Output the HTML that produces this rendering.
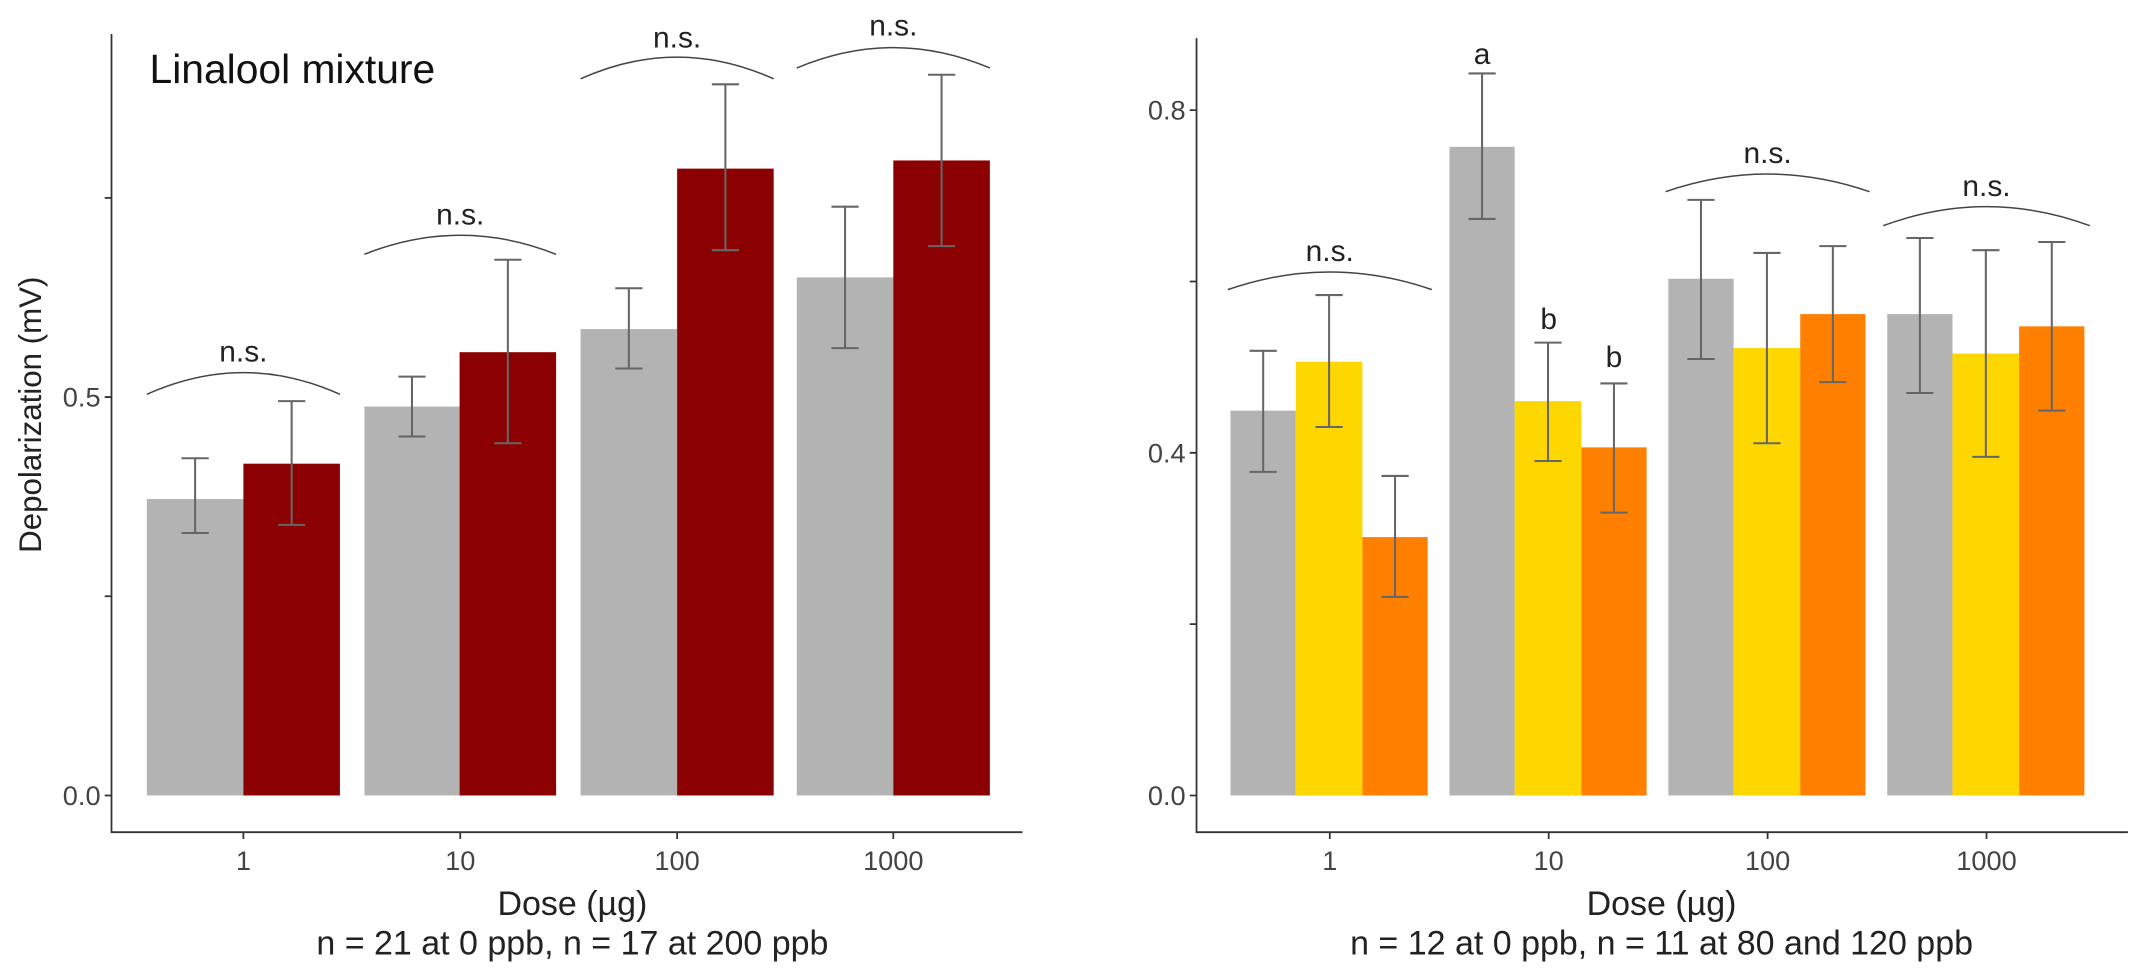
<!DOCTYPE html>
<html><head><meta charset="utf-8"><style>html,body{margin:0;padding:0;background:#fff}svg{display:block}</style></head>
<body>
<svg width="2132" height="977" viewBox="0 0 1568 718.5" preserveAspectRatio="none" xmlns="http://www.w3.org/2000/svg" font-family="Liberation Sans, sans-serif">
<rect width="1568" height="718.5" fill="#fff"/>
<!-- LEFT PANEL -->
<g>
<rect x="108" y="367" width="71" height="218" fill="#b3b3b3"/>
<rect x="179" y="341" width="71" height="244" fill="#8b0000"/>
<rect x="268" y="299" width="70" height="286" fill="#b3b3b3"/>
<rect x="338" y="259" width="71" height="326" fill="#8b0000"/>
<rect x="427" y="242" width="71" height="343" fill="#b3b3b3"/>
<rect x="498" y="124" width="71" height="461" fill="#8b0000"/>
<rect x="586" y="204" width="71" height="381" fill="#b3b3b3"/>
<rect x="657" y="118" width="71" height="467" fill="#8b0000"/>
<g stroke="#666" stroke-width="1.5" fill="none">
<path d="M143.5 337V392M133.5 337H153.5M133.5 392H153.5"/>
<path d="M214.5 295V386M204.5 295H224.5M204.5 386H224.5"/>
<path d="M303 277V321M293 277H313M293 321H313"/>
<path d="M373.5 191V326M363.5 191H383.5M363.5 326H383.5"/>
<path d="M462.5 212V271M452.5 212H472.5M452.5 271H472.5"/>
<path d="M533.5 62V184M523.5 62H543.5M523.5 184H543.5"/>
<path d="M621.5 152V256M611.5 152H631.5M611.5 256H631.5"/>
<path d="M692.5 55V181M682.5 55H702.5M682.5 181H702.5"/>
</g>
<g stroke="#444" stroke-width="1.1" fill="none">
<path d="M108 290Q179 258 250 290"/>
<path d="M268 187Q338.5 159 409 187"/>
<path d="M427 58Q498 26 569 58"/>
<path d="M586 50Q657 20 728 50"/>
</g>
<g font-size="22" fill="#222" text-anchor="middle">
<text x="179" y="266">n.s.</text>
<text x="338.5" y="165">n.s.</text>
<text x="498" y="35">n.s.</text>
<text x="657" y="26">n.s.</text>
</g>
<text x="110" y="61" font-size="30" fill="#111">Linalool mixture</text>
<g stroke="#333" stroke-width="1.3" fill="none">
<path d="M82 25V612H752"/>
<path d="M77 585H82M77 438.5H82M77 292H82M77 145.5H82"/>
<path d="M179 612V617M338.5 612V617M498 612V617M657 612V617"/>
</g>
<g font-size="20" fill="#444" text-anchor="end">
<text x="74" y="592">0.0</text>
<text x="74" y="299">0.5</text>
</g>
<g font-size="20" fill="#444" text-anchor="middle">
<text x="179" y="640">1</text><text x="338.5" y="640">10</text><text x="498" y="640">100</text><text x="657" y="640">1000</text>
</g>
<text x="421" y="673" font-size="25" fill="#222" text-anchor="middle">Dose (µg)</text>
<text x="421" y="702" font-size="25" fill="#222" text-anchor="middle">n = 21 at 0 ppb, n = 17 at 200 ppb</text>
<text transform="translate(30 305) rotate(-90)" font-size="23" fill="#222" text-anchor="middle">Depolarization (mV)</text>
</g>
<!-- RIGHT PANEL -->
<g>
<rect x="905" y="302" width="48" height="283" fill="#b3b3b3"/>
<rect x="953" y="266" width="49" height="319" fill="#ffd700"/>
<rect x="1002" y="395" width="48" height="190" fill="#ff7f00"/>
<rect x="1066" y="108" width="48" height="477" fill="#b3b3b3"/>
<rect x="1114" y="295" width="49" height="290" fill="#ffd700"/>
<rect x="1163" y="329" width="48" height="256" fill="#ff7f00"/>
<rect x="1227" y="205" width="48" height="380" fill="#b3b3b3"/>
<rect x="1275" y="256" width="49" height="329" fill="#ffd700"/>
<rect x="1324" y="231" width="48" height="354" fill="#ff7f00"/>
<rect x="1388" y="231" width="48" height="354" fill="#b3b3b3"/>
<rect x="1436" y="260" width="49" height="325" fill="#ffd700"/>
<rect x="1485" y="240" width="48" height="345" fill="#ff7f00"/>
<g stroke="#666" stroke-width="1.5" fill="none">
<path d="M929 258V347M919 258H939M919 347H939"/>
<path d="M977.5 217V314M967.5 217H987.5M967.5 314H987.5"/>
<path d="M1026 350V439M1016 350H1036M1016 439H1036"/>
<path d="M1090 54V161M1080 54H1100M1080 161H1100"/>
<path d="M1138.5 252V339M1128.5 252H1148.5M1128.5 339H1148.5"/>
<path d="M1187 282V377M1177 282H1197M1177 377H1197"/>
<path d="M1251 147V264M1241 147H1261M1241 264H1261"/>
<path d="M1299.5 186V326M1289.5 186H1309.5M1289.5 326H1309.5"/>
<path d="M1348 181V281M1338 181H1358M1338 281H1358"/>
<path d="M1412 175V289M1402 175H1422M1402 289H1422"/>
<path d="M1460.5 184V336M1450.5 184H1470.5M1450.5 336H1470.5"/>
<path d="M1509 178V302M1499 178H1519M1499 302H1519"/>
</g>
<g stroke="#444" stroke-width="1.1" fill="none">
<path d="M903 213Q978 187 1053 213"/>
<path d="M1225 141Q1300 115 1375 141"/>
<path d="M1385 166Q1461 138 1537 166"/>
</g>
<g font-size="22" fill="#222" text-anchor="middle">
<text x="978" y="192">n.s.</text>
<text x="1300" y="120">n.s.</text>
<text x="1461" y="144">n.s.</text>
<text x="1090" y="47">a</text>
<text x="1139" y="242">b</text>
<text x="1187" y="270">b</text>
</g>
<g stroke="#333" stroke-width="1.3" fill="none">
<path d="M880 28V612H1565"/>
<path d="M875 585H880M875 459H880M875 333H880M875 207H880M875 81H880"/>
<path d="M978 612V617M1139 612V617M1300 612V617M1461 612V617"/>
</g>
<g font-size="20" fill="#444" text-anchor="end">
<text x="872" y="592">0.0</text>
<text x="872" y="340">0.4</text>
<text x="872" y="88">0.8</text>
</g>
<g font-size="20" fill="#444" text-anchor="middle">
<text x="978" y="640">1</text><text x="1139" y="640">10</text><text x="1300" y="640">100</text><text x="1461" y="640">1000</text>
</g>
<text x="1222" y="673" font-size="25" fill="#222" text-anchor="middle">Dose (µg)</text>
<text x="1222" y="702" font-size="25" fill="#222" text-anchor="middle">n = 12 at 0 ppb, n = 11 at 80 and 120 ppb</text>
</g>
</svg>
</body></html>
